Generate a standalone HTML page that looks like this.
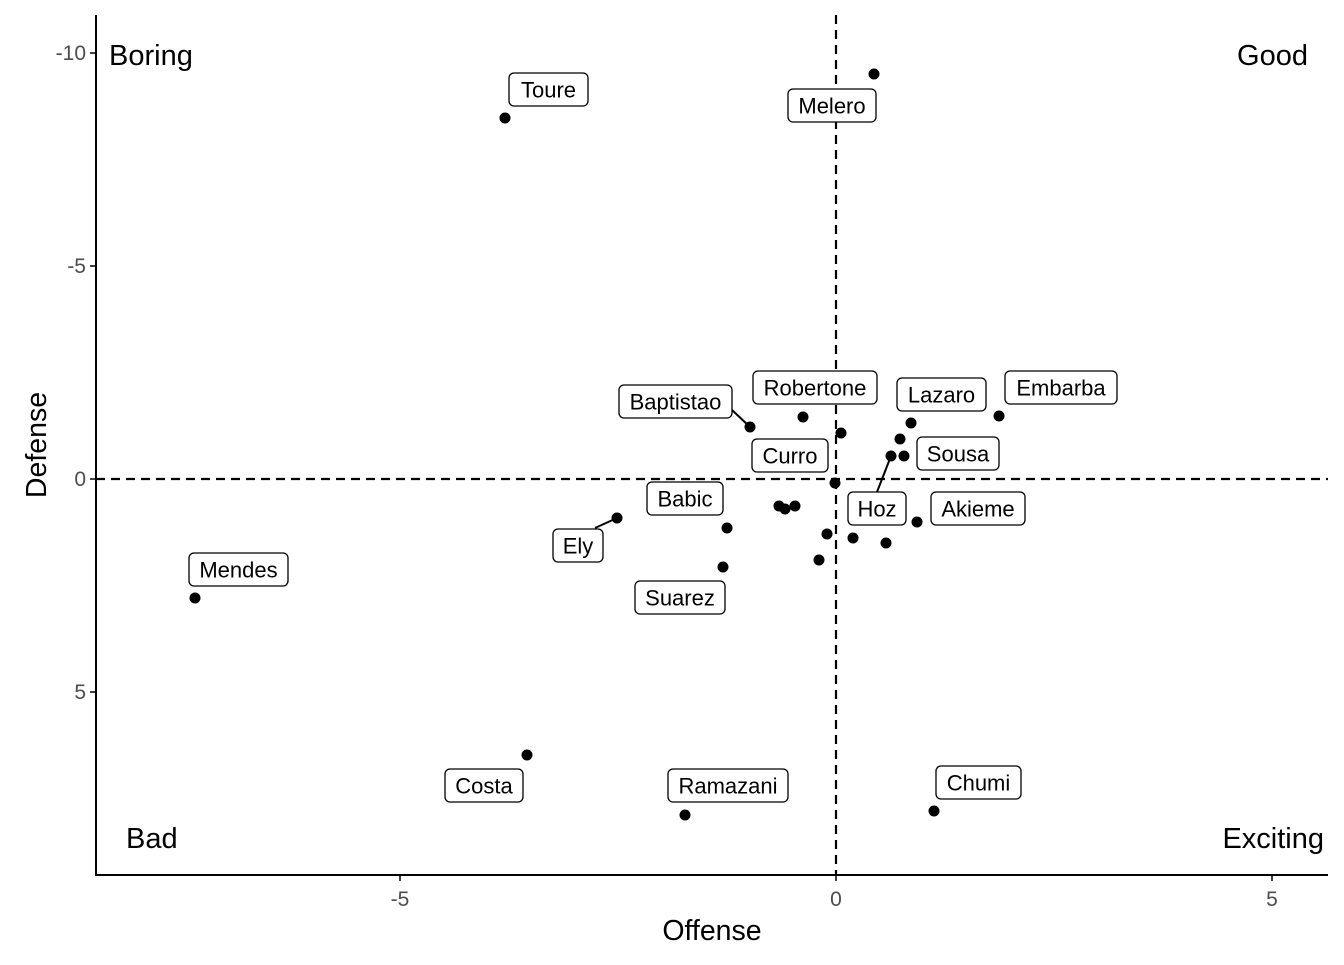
<!DOCTYPE html>
<html><head><meta charset="utf-8"><style>body{margin:0;background:#fff}</style></head><body>
<svg width="1344" height="960" xmlns="http://www.w3.org/2000/svg" font-family="Liberation Sans, sans-serif">
<rect width="1344" height="960" fill="#fff"/>
<line x1="96" y1="15" x2="96" y2="876" stroke="#000" stroke-width="2"/>
<line x1="95" y1="875" x2="1328" y2="875" stroke="#000" stroke-width="2"/>
<g stroke="#000" stroke-width="1.5">
<line x1="90" y1="53" x2="96" y2="53"/><line x1="90" y1="266" x2="96" y2="266"/><line x1="90" y1="479" x2="96" y2="479"/><line x1="90" y1="692" x2="96" y2="692"/>
<line x1="400" y1="875" x2="400" y2="881"/><line x1="836" y1="875" x2="836" y2="881"/><line x1="1272" y1="875" x2="1272" y2="881"/>
</g>
<g fill="#4d4d4d" font-size="21" text-anchor="end">
<text x="86" y="60">-10</text><text x="86" y="273">-5</text><text x="86" y="486">0</text><text x="86" y="699">5</text>
</g>
<g fill="#4d4d4d" font-size="21" text-anchor="middle">
<text x="400" y="906">-5</text><text x="836" y="906">0</text><text x="1272" y="906">5</text>
</g>
<text x="712" y="940" font-size="28.5" text-anchor="middle">Offense</text>
<text transform="translate(46,445) rotate(-90)" font-size="28.5" text-anchor="middle">Defense</text>
<line x1="836" y1="15" x2="836" y2="875" stroke="#000" stroke-width="2.2" stroke-dasharray="9,6"/>
<line x1="96" y1="479" x2="1328" y2="479" stroke="#000" stroke-width="2.2" stroke-dasharray="9,6"/>
<g font-size="29">
<text x="109" y="65">Boring</text>
<text x="1308" y="65" text-anchor="end">Good</text>
<text x="126" y="848">Bad</text>
<text x="1324" y="848" text-anchor="end">Exciting</text>
</g>
<g stroke="#000" stroke-width="2">
<line x1="732" y1="410" x2="750" y2="427"/><line x1="877" y1="492" x2="891" y2="456"/><line x1="595" y1="528" x2="617" y2="518"/>
</g>
<g fill="#000">
<circle cx="505" cy="118" r="5.5"/><circle cx="874" cy="74" r="5.5"/><circle cx="195" cy="598" r="5.5"/><circle cx="527" cy="755" r="5.5"/>
<circle cx="685" cy="815" r="5.5"/><circle cx="934" cy="811" r="5.5"/><circle cx="750" cy="427" r="5.5"/><circle cx="803" cy="417" r="5.5"/>
<circle cx="841" cy="433" r="5.5"/><circle cx="999" cy="416" r="5.5"/><circle cx="911" cy="423" r="5.5"/><circle cx="900" cy="439" r="5.5"/>
<circle cx="904" cy="456" r="5.5"/><circle cx="891" cy="456" r="5.5"/><circle cx="835" cy="483" r="5.5"/><circle cx="617" cy="518" r="5.5"/>
<circle cx="727" cy="528" r="5.5"/><circle cx="779" cy="506" r="5.5"/><circle cx="785" cy="509" r="5.5"/><circle cx="795" cy="506" r="5.5"/>
<circle cx="827" cy="534" r="5.5"/><circle cx="853" cy="538" r="5.5"/><circle cx="886" cy="543" r="5.5"/><circle cx="917" cy="522" r="5.5"/>
<circle cx="819" cy="560" r="5.5"/><circle cx="723" cy="567" r="5.5"/>
</g>
<g font-size="22" text-anchor="middle">
<g><rect x="509" y="73" width="79" height="33" rx="5" fill="#fff" stroke="#000" stroke-width="1.3"/><text x="548.5" y="97.5">Toure</text></g>
<g><rect x="788" y="89" width="88" height="33" rx="5" fill="#fff" stroke="#000" stroke-width="1.3"/><text x="832" y="113.5">Melero</text></g>
<g><rect x="189" y="553" width="99" height="33" rx="5" fill="#fff" stroke="#000" stroke-width="1.3"/><text x="238.5" y="577.5">Mendes</text></g>
<g><rect x="445" y="769" width="78" height="33" rx="5" fill="#fff" stroke="#000" stroke-width="1.3"/><text x="484" y="793.5">Costa</text></g>
<g><rect x="668" y="769" width="120" height="33" rx="5" fill="#fff" stroke="#000" stroke-width="1.3"/><text x="728" y="793.5">Ramazani</text></g>
<g><rect x="936" y="766" width="85" height="33" rx="5" fill="#fff" stroke="#000" stroke-width="1.3"/><text x="978.5" y="790.5">Chumi</text></g>
<g><rect x="619" y="385" width="113" height="33" rx="5" fill="#fff" stroke="#000" stroke-width="1.3"/><text x="675.5" y="409.5">Baptistao</text></g>
<g><rect x="753" y="371" width="124" height="33" rx="5" fill="#fff" stroke="#000" stroke-width="1.3"/><text x="815" y="395.5">Robertone</text></g>
<g><rect x="752" y="439" width="76" height="33" rx="5" fill="#fff" stroke="#000" stroke-width="1.3"/><text x="790" y="463.5">Curro</text></g>
<g><rect x="897" y="378" width="89" height="33" rx="5" fill="#fff" stroke="#000" stroke-width="1.3"/><text x="941.5" y="402.5">Lazaro</text></g>
<g><rect x="1005" y="371" width="112" height="33" rx="5" fill="#fff" stroke="#000" stroke-width="1.3"/><text x="1061" y="395.5">Embarba</text></g>
<g><rect x="917" y="437" width="82" height="33" rx="5" fill="#fff" stroke="#000" stroke-width="1.3"/><text x="958" y="461.5">Sousa</text></g>
<g><rect x="848" y="492" width="58" height="33" rx="5" fill="#fff" stroke="#000" stroke-width="1.3"/><text x="877" y="516.5">Hoz</text></g>
<g><rect x="931" y="492" width="94" height="33" rx="5" fill="#fff" stroke="#000" stroke-width="1.3"/><text x="978" y="516.5">Akieme</text></g>
<g><rect x="647" y="482" width="76" height="33" rx="5" fill="#fff" stroke="#000" stroke-width="1.3"/><text x="685" y="506.5">Babic</text></g>
<g><rect x="553" y="529" width="50" height="33" rx="5" fill="#fff" stroke="#000" stroke-width="1.3"/><text x="578" y="553.5">Ely</text></g>
<g><rect x="635" y="581" width="90" height="33" rx="5" fill="#fff" stroke="#000" stroke-width="1.3"/><text x="680" y="605.5">Suarez</text></g>
</g>
</svg>
</body></html>
